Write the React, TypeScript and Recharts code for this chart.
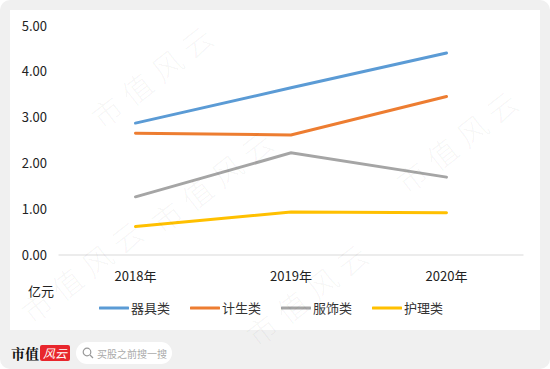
import React from 'react';
import { LineChart, Line, XAxis, YAxis, Legend, ReferenceLine } from 'recharts';

const years = ['2018年', '2019年', '2020年'];
const qiju = [2.88, 3.65, 4.41];
const jisheng = [2.66, 2.62, 3.46];
const fushi = [1.27, 2.23, 1.7];
const huli = [0.62, 0.94, 0.92];
const yTicks = [0, 1, 2, 3, 4, 5];

const SERIES = [
  { key: 'qiju', name: '器具类', color: '#5B9BD5' },
  { key: 'jisheng', name: '计生类', color: '#ED7D31' },
  { key: 'fushi', name: '服饰类', color: '#A5A5A5' },
  { key: 'huli', name: '护理类', color: '#FFC000' },
];

const data = years.map((year, i) => ({
  year,
  qiju: qiju[i],
  jisheng: jisheng[i],
  fushi: fushi[i],
  huli: huli[i],
}));

const FONT = '"Noto Sans CJK SC", "Noto Sans", sans-serif';

// watermark spots (kept inside the image)
const marks = [
  { x: 105, y: 100 },
  { x: 165, y: 205 },
  { x: 410, y: 165 },
  { x: 260, y: 318 },
  { x: 35, y: 295 },
];

const LegendContent = () => (
  <div style={{ display: 'flex', justifyContent: 'center', gap: 20, paddingTop: 13, fontFamily: FONT, fontSize: 13, color: '#333' }}>
    {SERIES.map(s => (
      <div key={s.key} style={{ display: 'flex', alignItems: 'center', gap: 2 }}>
        <svg width={30} height={4}>
          <line x1={1} y1={2} x2={29} y2={2} stroke={s.color} strokeWidth={3} strokeLinecap="round" />
        </svg>
        <span>{s.name}</span>
      </div>
    ))}
  </div>
);

export default function App() {
  return (
    <div style={{ position: 'fixed', left: 0, top: 0, width: 550, height: 369, background: '#f0f0f0', borderRadius: 10, overflow: 'hidden', fontFamily: FONT }}>
      <div style={{ position: 'absolute', left: 10, top: 10, width: 530, height: 320, background: '#fff' }}>
        <LineChart width={530} height={320} data={data} margin={{ top: 16, right: 16.5, left: 8.5, bottom: 0 }}>
          <XAxis
            dataKey="year"
            axisLine={false}
            tickLine={false}
            tickMargin={11}
            height={30}
            padding={{ left: 77, right: 77 }}
            tick={{ fontSize: 13, fill: '#222', fontFamily: FONT }}
          />
          <YAxis
            domain={[0, 5]}
            ticks={yTicks}
            axisLine={false}
            tickLine={false}
            width={40}
            tickMargin={5.5}
            tickFormatter={(v: number) => v.toFixed(2)}
            tick={{ fontSize: 13, fill: '#222', fontFamily: FONT }}
          />
          <ReferenceLine y={0} stroke="#d9d9d9" strokeWidth={1} />
          <Legend verticalAlign="bottom" height={45} content={<LegendContent />} />
          {SERIES.map(s => (
            <Line
              key={s.key}
              dataKey={s.key}
              name={s.name}
              stroke={s.color}
              strokeWidth={3}
              strokeLinecap="round"
              dot={false}
              activeDot={false}
              isAnimationActive={false}
            />
          ))}
        </LineChart>
        <div style={{ position: 'absolute', left: 18, top: 271, fontSize: 13, color: '#222' }}>亿元</div>
      </div>

      {marks.map((m, i) => (
        <div
          key={i}
          style={{
            position: 'absolute',
            left: m.x,
            top: m.y,
            fontSize: 30,
            letterSpacing: 8,
            lineHeight: '34px',
            color: 'rgba(0,0,0,0.045)',
            transform: 'rotate(-38deg)',
            transformOrigin: 'left bottom',
            whiteSpace: 'nowrap',
            pointerEvents: 'none',
            fontWeight: 300,
          }}
        >
          市值风云
        </div>
      ))}

      <div style={{ position: 'absolute', left: 11, top: 342, display: 'flex', alignItems: 'center' }}>
        <span style={{ fontSize: 14, fontWeight: 700, color: '#111', fontFamily: '"Noto Serif CJK SC", "Noto Sans CJK SC", serif' }}>市值</span>
        <span style={{ marginLeft: 1, background: '#e8262c', color: '#fff', fontSize: 12, fontStyle: 'italic', padding: '0 3px', lineHeight: '16px', borderRadius: 2 }}>风云</span>
        <div style={{ marginLeft: 6, width: 96, height: 22, borderRadius: 11, background: '#fff', display: 'flex', alignItems: 'center', paddingLeft: 6, boxSizing: 'border-box' }}>
          <svg width={12} height={12}>
            <circle cx={5} cy={5} r={3.8} fill="none" stroke="#999" strokeWidth={1.2} />
            <line x1={8} y1={8} x2={11} y2={11} stroke="#999" strokeWidth={1.2} />
          </svg>
          <span style={{ marginLeft: 3, fontSize: 10, color: '#aaa' }}>买股之前搜一搜</span>
        </div>
      </div>
    </div>
  );
}
